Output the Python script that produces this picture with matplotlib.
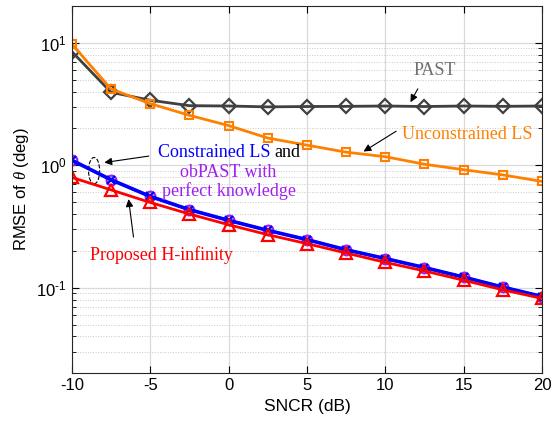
import matplotlib
matplotlib.use("Agg")
import matplotlib.pyplot as plt
from matplotlib.patches import Ellipse
from matplotlib.ticker import LogLocator, NullFormatter, FixedLocator, FixedFormatter

snr = [-10, -7.5, -5, -2.5, 0, 2.5, 5, 7.5, 10, 12.5, 15, 17.5, 20]
past = [8.5, 3.95, 3.4, 3.07, 3.05, 3.0, 3.02, 3.03, 3.05, 3.02, 3.05, 3.03, 3.05]
unconstrained = [9.8, 4.2, 3.19, 2.56, 2.11, 1.67, 1.46, 1.28, 1.175, 1.02, 0.92, 0.834, 0.738]
constrained = [1.1, 0.762, 0.557, 0.434, 0.355, 0.294, 0.247, 0.204, 0.173, 0.146, 0.122, 0.101, 0.0847]
obpast = [1.1, 0.762, 0.557, 0.434, 0.355, 0.294, 0.247, 0.204, 0.173, 0.146, 0.122, 0.101, 0.0847]
hinf = [0.796, 0.63, 0.497, 0.40, 0.327, 0.271, 0.229, 0.192, 0.161, 0.137, 0.115, 0.096, 0.0817]
yticks = [0.1, 1, 10]
yticklabels = [r'$\mathdefault{10^{\text{-}1}}$', r'$\mathdefault{10^{0}}$', r'$\mathdefault{10^{1}}$']

plt.rcParams['font.family'] = 'Liberation Sans'
plt.rcParams['axes.unicode_minus'] = False
plt.rcParams['mathtext.fontset'] = 'custom'
plt.rcParams['mathtext.rm'] = 'Liberation Sans'
plt.rcParams['mathtext.it'] = 'Liberation Serif:italic'

fig = plt.figure(figsize=(5.52, 4.30), dpi=100)
ax = fig.add_axes([0.130, 0.132, 0.852, 0.854])

ax.plot(snr, past, color='#404040', lw=2, marker='D', ms=7, mfc='none', mew=1.6)
ax.plot(snr, unconstrained, color='#FF8000', lw=2, marker='s', ms=6, mfc='none', mew=1.5)
ax.plot(snr, obpast, color='#A020F0', lw=2, marker='o', ms=7, mfc='none', mew=1.6)
ax.plot(snr, constrained, color='#0000FF', lw=2.6, marker='x', ms=6, mew=1.6)
ax.plot(snr, hinf, color='#FF0000', lw=2, marker='^', ms=8, mfc='none', mew=1.6)

ax.set_yscale('log')
ax.set_xlim(-10, 20)
ax.set_ylim(0.02, 20)
ax.set_xticks([-10, -5, 0, 5, 10, 15, 20])
ax.yaxis.set_major_locator(FixedLocator(yticks))
ax.yaxis.set_major_formatter(FixedFormatter(yticklabels))
ax.yaxis.set_minor_locator(LogLocator(base=10, subs=range(2, 10)))
ax.yaxis.set_minor_formatter(NullFormatter())
ax.tick_params(which='both', direction='in', top=True, right=True, labelsize=12)
ax.tick_params(which='major', length=5)
ax.tick_params(which='minor', length=3)
ax.grid(True, which='major', color='#d9d9d9', lw=0.9, ls='-')
ax.grid(True, which='minor', axis='y', color='#c8c8c8', lw=0.7, ls=':')
ax.set_axisbelow(True)
for s in ax.spines.values():
    s.set_color('#262626')

ax.set_xlabel('SNCR (dB)', fontsize=12.5)
ax.set_ylabel(r'RMSE of $\mathit{\theta}$ (deg)', fontsize=12)

serif = 'Liberation Serif'
arrow = dict(arrowstyle='-|>', color='black', lw=0.8, mutation_scale=11)
ax.text(13.18, 5.97, 'PAST', color='#707070', fontsize=13, family=serif, ha='center', va='center')
ax.annotate('', xy=(11.52, 3.13), xytext=(12.16, 4.41), arrowprops=arrow)
ax.text(15.21, 1.80, 'Unconstrained LS', color='#FF8000', fontsize=13, family=serif, ha='center', va='center')
ax.annotate('', xy=(8.46, 1.26), xytext=(10.84, 1.95), arrowprops=arrow)
ax.text(2.65, 1.275, 'Constrained LS', color='#0000FF', fontsize=13, family=serif, ha='right', va='center')
ax.text(2.92, 1.275, 'and', color='black', fontsize=13, family=serif, ha='left', va='center')
ax.text(0.0, 0.875, 'obPAST with', color='#A020F0', fontsize=13, family=serif, ha='center', va='center')
ax.text(0.0, 0.612, 'perfect knowledge', color='#A020F0', fontsize=13, family=serif, ha='center', va='center')
ax.annotate('', xy=(-8.10, 1.045), xytext=(-4.91, 1.198), arrowprops=arrow)
ax.add_patch(Ellipse((0.0475, 0.5516), 0.0235, 0.072, transform=ax.transAxes,
                     fill=False, ls='--', lw=0.8, color='black'))
ax.text(-4.27, 0.186, 'Proposed H-infinity', color='#FF0000', fontsize=13, family=serif, ha='center', va='center')
ax.annotate('', xy=(-6.40, 0.557), xytext=(-6.04, 0.246), arrowprops=arrow)

fig.savefig('out.png', dpi=100)
